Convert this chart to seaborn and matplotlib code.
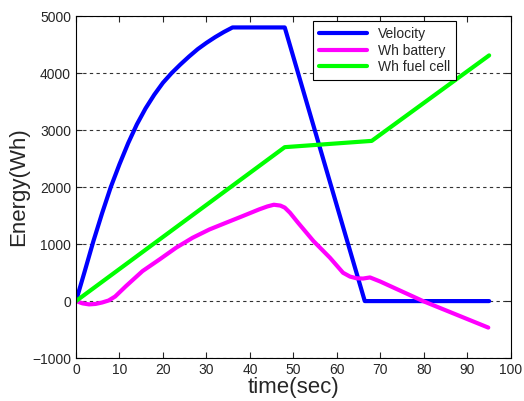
import numpy as np
import pandas as pd
import matplotlib
matplotlib.use("Agg")
import matplotlib.pyplot as plt
import seaborn as sns

# values
vel_t = [0, 2, 4, 6, 8, 10, 12, 14, 16, 18, 20, 22, 24, 26, 28, 30, 32, 34, 36, 48, 66.4, 95]
vel_wh = [0, 520, 1050, 1540, 2000, 2400, 2770, 3100, 3380, 3620, 3830, 4000, 4150, 4290, 4420, 4530, 4630, 4720, 4800,
          4800, 0, 0]

bat_t = [0, 1.5, 3, 4.5, 6, 7.5, 9, 11.5, 15.3, 19.2, 23, 26.8, 30.7, 34.5, 38.3, 42.1, 44, 45.5, 47, 48, 49.2, 51,
         54.6, 58.4, 61.4, 63, 64.5, 66, 67.6, 69.9, 79.8, 94.8]
bat_wh = [0, -40, -58, -50, -25, 10, 80, 263, 526, 730, 935, 1110, 1257, 1374, 1490, 1608, 1660, 1690, 1675, 1640, 1550,
          1380, 1053, 760, 497, 430, 400, 395, 415, 345, 0, -465]

fc_t = [0, 48, 68, 95]
fc_wh = [0, 2700, 2810, 4310]

sns.set_style("ticks")
plt.rcParams['font.family'] = ['Liberation Sans', 'DejaVu Sans']

fig = plt.figure(figsize=(5.24, 4.01), dpi=100)
ax = fig.add_axes([0.145, 0.107, 0.83, 0.853])

sns.lineplot(x=vel_t, y=vel_wh, ax=ax, color='#0000ff', lw=3, label='Velocity')
sns.lineplot(x=bat_t, y=bat_wh, ax=ax, color='#ff00ff', lw=3, label='Wh battery')
sns.lineplot(x=fc_t, y=fc_wh, ax=ax, color='#00ff00', lw=3, label='Wh fuel cell')

ax.set_xlim(0, 100)
ax.set_ylim(-1000, 5000)
ax.set_xticks(range(0, 101, 10))
ax.set_yticks(range(-1000, 5001, 1000))
ax.yaxis.grid(True, linestyle=(0, (3, 3)), color='#333333', lw=0.8)
ax.tick_params(direction='in', top=True, right=True, labelsize=10, length=4)
for s in ax.spines.values():
    s.set_visible(True)
    s.set_color('black')
ax.set_xlabel('time(sec)', fontsize=16, labelpad=0)
ax.set_ylabel('Energy(Wh)', fontsize=16, labelpad=2)

leg = ax.legend(loc='upper left', bbox_to_anchor=(0.545, 0.985), fontsize=10,
                fancybox=False, framealpha=1, edgecolor='black', handlelength=3.5,
                borderaxespad=0, labelspacing=0.2)
leg.get_frame().set_linewidth(0.8)

fig.savefig('out.png', dpi=100)
